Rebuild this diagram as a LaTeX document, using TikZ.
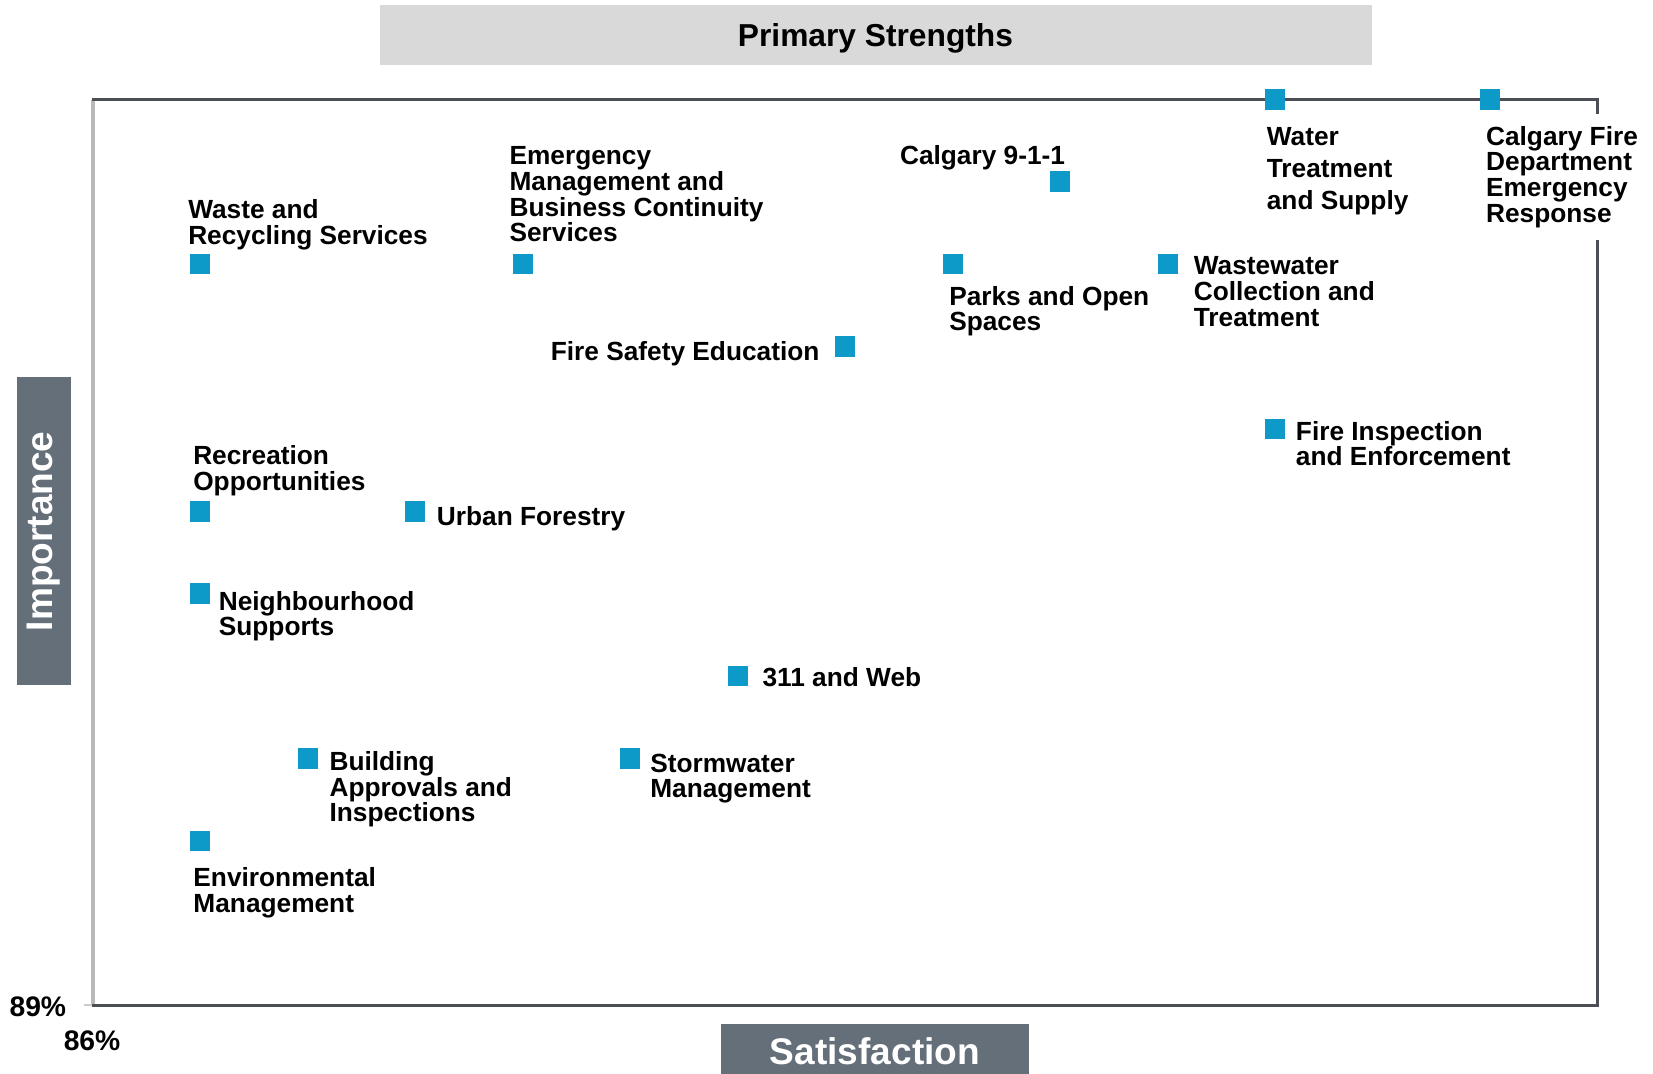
\documentclass[tikz,border=0pt]{standalone}
\usepackage{fontspec}
\setmainfont{Liberation Sans}
\definecolor{markblue}{RGB}{14,154,200}
\definecolor{framedark}{RGB}{75,78,84}
\definecolor{slate}{RGB}{100,111,122}
\definecolor{titlegray}{RGB}{217,217,217}
\begin{document}
\begin{tikzpicture}[x=0.75pt,y=-0.75pt,
  lbl/.style={anchor=north west, inner sep=0pt, align=left, text=black,
              font=\bfseries\fontsize{19.7}{19.3}\selectfont},
  mk/.style={fill=markblue, draw=none, minimum width=15pt, minimum height=15.5pt, inner sep=0pt},
  axisbox/.style={fill=slate, text=white, inner sep=0pt,
              font=\bfseries\fontsize{27.8}{30}\selectfont},
  pct/.style={anchor=north west, inner sep=0pt, font=\bfseries\fontsize{21.2}{23}\selectfont}
]
\useasboundingbox (0,0) rectangle (1653,1074);

% title
\node[fill=titlegray, minimum width=744pt, minimum height=45pt, inner sep=0pt, text depth=0pt,
      font=\bfseries\fontsize{23.8}{28}\selectfont] (title) at (875.5,35.4) {Primary Strengths};

% axis boxes
\node[axisbox, minimum width=231pt, minimum height=40.2pt, rotate=90] (imp) at (43.8,531.3) {Importance};
\node[axisbox, minimum width=231pt, minimum height=42pt, text depth=0pt] (sat) at (875,1051.5) {Satisfaction};

% frame
\draw[gray!55, line width=2.3pt] (93,99.7) -- (93,1005.3);
\draw[gray!40, line width=1.6pt] (84,1005.3) -- (93,1005.3);
\draw[framedark, line width=2pt, line join=miter] (92,99.7) -- (1597.7,99.7) -- (1597.7,1005.3) -- (91.5,1005.3);

% markers
\node[mk] (mWaste) at (200,264.1) {};
\node[mk] (mEmerg) at (522.5,264.1) {};
\node[mk] (mNine) at (1060,181.7) {};
\node[mk] (mWater) at (1275,99.3) {};
\node[mk] (mCfd) at (1490,99.3) {};
\node[mk] (mParks) at (952.5,264.1) {};
\node[mk] (mWastew) at (1167.5,264.1) {};
\node[mk] (mFse) at (845,346.5) {};
\node[mk] (mFie) at (1275,428.9) {};
\node[mk] (mRec) at (200,511.3) {};
\node[mk] (mUrban) at (415,511.3) {};
\node[mk] (mNeigh) at (200,593.7) {};
\node[mk] (mWeb) at (737.5,676.1) {};
\node[mk] (mBuild) at (307.5,758.5) {};
\node[mk] (mStorm) at (630,758.5) {};
\node[mk] (mEnv) at (200,840.9) {};

% labels
\node[lbl] (tWaste) at (188,199) {Waste and\\Recycling Services};
\node[lbl] (tEmerg) at (509.3,146.3) {Emergency\\Management and\\Business Continuity\\Services};
\node[lbl] (tNine) at (899.8,145.3) {Calgary 9-1-1};
\node[lbl, font=\bfseries\fontsize{19.7}{23.85}\selectfont] (tWater) at (1266.6,127.4) {Water\\Treatment\\and Supply};
\node[lbl, fill=white, inner xsep=3pt, inner ysep=9pt] (tCfd) at (1481.8,113.7) {Calgary Fire\\Department\\Emergency\\Response};
\node[lbl] (tParks) at (949,285.8) {Parks and Open\\Spaces};
\node[lbl] (tWastew) at (1193.6,256.5) {Wastewater\\Collection and\\Treatment};
\node[lbl] (tFse) at (550.6,341) {Fire Safety Education};
\node[lbl] (tFie) at (1295.7,420.8) {Fire Inspection\\and Enforcement};
\node[lbl] (tRec) at (193,445) {Recreation\\Opportunities};
\node[lbl] (tUrban) at (436.7,506) {Urban Forestry};
\node[lbl] (tNeigh) at (218.6,590.8) {Neighbourhood\\Supports};
\node[lbl] (tWeb) at (762.3,667.6) {311 and Web};
\node[lbl] (tBuild) at (329.3,751) {Building\\Approvals and\\Inspections};
\node[lbl] (tStorm) at (650,753.4) {Stormwater\\Management};
\node[lbl] (tEnv) at (193.2,867.3) {Environmental\\Management};

% axis values
\node[pct] (p89) at (9.3,996) {89\%};
\node[pct] (p86) at (63.5,1030.5) {86\%};
\end{tikzpicture}
\end{document}
